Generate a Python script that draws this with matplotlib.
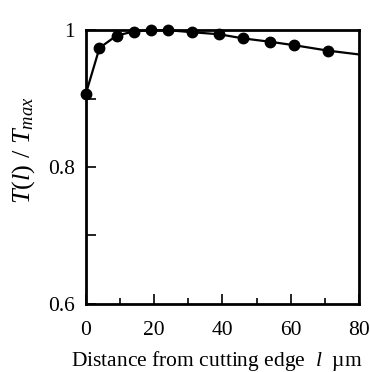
import matplotlib
matplotlib.use("Agg")
import matplotlib.pyplot as plt
from matplotlib.ticker import MultipleLocator

# 測定点（切れ刃からの距離 l [µm] と T(l)/Tmax）
dist_um = [0, 4, 9, 14, 19, 24, 31, 39, 46, 54, 61, 71]
t_ratio = [0.907, 0.974, 0.992, 0.998, 1.0, 1.0, 0.997, 0.994, 0.988, 0.983, 0.978, 0.970]
# 実線の終点（x=80 まで延長）
line_end_x = 80
line_end_y = 0.9645

x_ticks = [0, 20, 40, 60, 80]
y_ticks = [0.6, 0.7, 0.8, 0.9, 1.0]
y_ticklabels = ["0.6", "", "0.8", "", "1"]

plt.rcParams["font.family"] = ["Liberation Serif", "DejaVu Serif"]
plt.rcParams["mathtext.fontset"] = "custom"
plt.rcParams["mathtext.rm"] = "Liberation Serif"
plt.rcParams["mathtext.it"] = "Liberation Serif:italic"

fig = plt.figure(figsize=(3.70, 3.72), dpi=100)
ax = fig.add_axes([0.232, 0.183, 0.738, 0.736])

ax.plot(dist_um + [line_end_x], t_ratio + [line_end_y], color="black", lw=1.6,
        clip_on=False, zorder=3)
ax.plot(dist_um, t_ratio, "o", color="black", ms=7.5, clip_on=False, zorder=4)

ax.set_xlim(0, 80)
ax.set_ylim(0.6, 1.0)
ax.set_xticks(x_ticks)
ax.xaxis.set_minor_locator(MultipleLocator(10))
ax.set_yticks(y_ticks)
ax.set_yticklabels(y_ticklabels)

for s in ax.spines.values():
    s.set_linewidth(2.0)
ax.tick_params(which="major", direction="in", length=7, width=1.2, labelsize=15.5, pad=8)
ax.tick_params(which="minor", direction="in", length=4, width=1.2)
ax.tick_params(axis="x", pad=12)

ax.set_xlabel("Distance from cutting edge  $\\mathit{l}$  \u00b5m", fontsize=15.5)
ax.xaxis.set_label_coords(0.48, -0.165)
ax.set_ylabel("$\\mathit{T}(\\mathit{l})$ / $\\mathit{T}_{\\mathit{max}}$", fontsize=19)
ax.yaxis.set_label_coords(-0.178, 0.56)

fig.savefig("out.png", dpi=100)
